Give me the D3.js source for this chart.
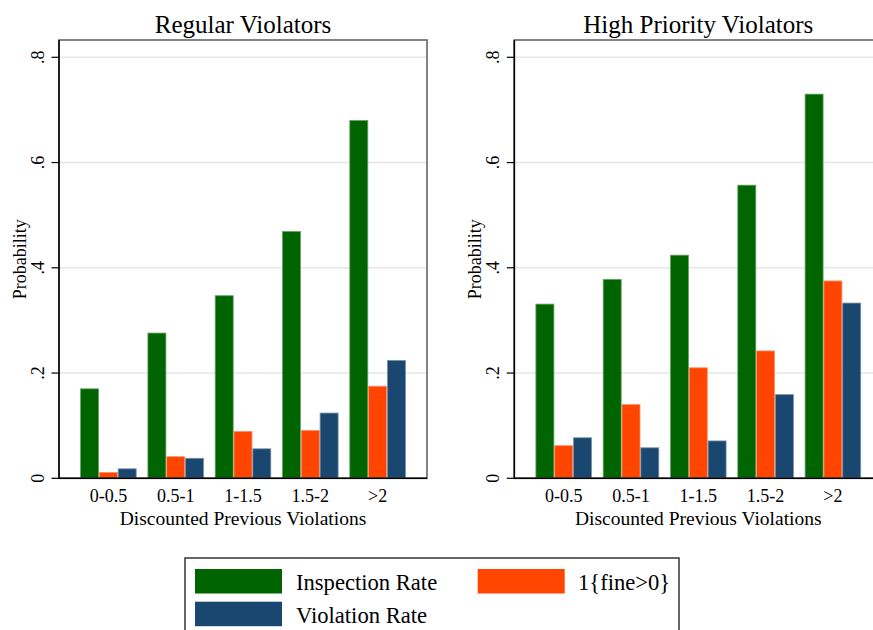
<!DOCTYPE html>
<html lang="en">
<head>
<meta charset="utf-8">
<title>Violators</title>
<script src="https://d3js.org/d3.v7.min.js"></script>
<style>
  * { margin:0; padding:0; box-sizing:border-box; }
  body { background:#fff; width:873px; height:630px; overflow:hidden; }
  svg text { font-family:'Liberation Serif','Times New Roman',serif; fill:#000; }
</style>
</head>
<body>
<svg id="chart" width="873" height="630"></svg>
<script>
const categories = ['0-0.5', '0.5-1', '1-1.5', '1.5-2', '>2'];
const seriesNames = ['Inspection Rate', '1{fine>0}', 'Violation Rate'];
const seriesColors = ['#006400', '#ff4500', '#1a476f'];
const yTicks = [0, 0.2, 0.4, 0.6, 0.8];
const yTickLabels = ['0', '.2', '.4', '.6', '.8'];

// regular violators
const regInspection = [0.170, 0.276, 0.347, 0.469, 0.680];
const regFine       = [0.011, 0.041, 0.089, 0.091, 0.175];
const regViolation  = [0.018, 0.038, 0.056, 0.124, 0.224];

// high priority violators
const hpvInspection = [0.331, 0.378, 0.424, 0.557, 0.730];
const hpvFine       = [0.062, 0.140, 0.210, 0.242, 0.375];
const hpvViolation  = [0.077, 0.058, 0.071, 0.159, 0.333];

const svg = d3.select('#chart');
const plotW = 368, plotTop = 40, plotBottom = 478.3;

function panel(left, title, series) {
  const g = svg.append('g').attr('transform', `translate(${left},0)`);

  const y = d3.scaleLinear().domain([0, 0.8]).range([plotBottom, 57.3]);
  const x0 = d3.scaleBand().domain(categories).range([0, plotW])
    .paddingInner(0.162).paddingOuter(0.315);
  const x1 = d3.scaleBand().domain(seriesNames).range([0, x0.bandwidth()]).padding(0);

  // grid
  g.append('g').selectAll('line')
    .data(yTicks.filter(d => d > 0))
    .join('line')
    .attr('x1', 0).attr('x2', plotW)
    .attr('y1', d => y(d)).attr('y2', d => y(d))
    .attr('stroke', '#e6e6e6').attr('stroke-width', 1.5);

  // bars
  const rows = categories.map((c, i) => ({ cat: c, vals: series.map((s, j) => ({ key: seriesNames[j], v: s[i], c: seriesColors[j] })) }));
  g.append('g').selectAll('g')
    .data(rows)
    .join('g')
    .attr('transform', d => `translate(${x0(d.cat)},0)`)
    .selectAll('rect')
    .data(d => d.vals)
    .join('rect')
    .attr('x', d => x1(d.key) + 0.4)
    .attr('width', x1.bandwidth() - 0.8)
    .attr('y', d => y(d.v))
    .attr('height', d => y(0) - y(d.v))
    .attr('fill', d => d.c)
    .attr('stroke', d => d3.interpolateRgb(d.c, '#fff')(0.4))
    .attr('stroke-width', 0.8);

  // frame
  g.append('rect')
    .attr('x', 0).attr('y', plotTop)
    .attr('width', plotW).attr('height', plotBottom - plotTop)
    .attr('fill', 'none').attr('stroke', '#6e6e6e').attr('stroke-width', 1.7);

  // y axis
  const ya = g.append('g');
  ya.append('line').attr('x1', 0).attr('x2', 0).attr('y1', plotTop).attr('y2', plotBottom)
    .attr('stroke', '#000').attr('stroke-width', 1.5);
  ya.selectAll('line.tick')
    .data(yTicks)
    .join('line')
    .attr('class', 'tick')
    .attr('x1', -7.5).attr('x2', 0)
    .attr('y1', d => y(d)).attr('y2', d => y(d))
    .attr('stroke', '#000').attr('stroke-width', 1.2);
  ya.selectAll('text')
    .data(yTicks)
    .join('text')
    .attr('transform', d => `translate(-15,${y(d)}) rotate(-90)`)
    .attr('text-anchor', 'middle')
    .style('font-size', '18px')
    .text((d, i) => yTickLabels[i]);

  g.append('line').attr('x1', 0).attr('x2', plotW).attr('y1', plotBottom).attr('y2', plotBottom)
    .attr('stroke', '#000').attr('stroke-width', 1.5);

  // x labels
  g.append('g').selectAll('text')
    .data(categories)
    .join('text')
    .attr('x', d => x0(d) + x0.bandwidth() / 2)
    .attr('y', 502)
    .attr('text-anchor', 'middle')
    .style('font-size', '18px')
    .text(d => d);

  g.append('text')
    .attr('x', plotW / 2).attr('y', 525)
    .attr('text-anchor', 'middle')
    .style('font-size', '19.5px')
    .text('Discounted Previous Violations');

  g.append('text')
    .attr('transform', `translate(-33,${(plotTop + plotBottom) / 2}) rotate(-90)`)
    .attr('text-anchor', 'middle')
    .style('font-size', '18px')
    .text('Probability');

  g.append('text')
    .attr('x', plotW / 2).attr('y', 33)
    .attr('text-anchor', 'middle')
    .style('font-size', '25px')
    .text(title);
}

panel(59, 'Regular Violators', [regInspection, regFine, regViolation]);
panel(514.3, 'High Priority Violators', [hpvInspection, hpvFine, hpvViolation]);

// legend
const lg = svg.append('g');
lg.append('rect')
  .attr('x', 185).attr('y', 558).attr('width', 494).attr('height', 90)
  .attr('fill', '#fff').attr('stroke', '#333').attr('stroke-width', 1.5);

const legendPos = [
  { sx: 195, sy: 569, tx: 296, ty: 590 },
  { sx: 477.7, sy: 569, tx: 578, ty: 590 },
  { sx: 195, sy: 601.7, tx: 296, ty: 623 }
];
const items = lg.selectAll('g.item')
  .data(seriesNames)
  .join('g')
  .attr('class', 'item');
items.append('rect')
  .attr('x', (d, i) => legendPos[i].sx).attr('y', (d, i) => legendPos[i].sy)
  .attr('width', 87).attr('height', 24.5)
  .attr('fill', (d, i) => seriesColors[i]);
items.append('text')
  .attr('x', (d, i) => legendPos[i].tx).attr('y', (d, i) => legendPos[i].ty)
  .style('font-size', '22.6px')
  .text(d => d);
</script>
</body>
</html>
